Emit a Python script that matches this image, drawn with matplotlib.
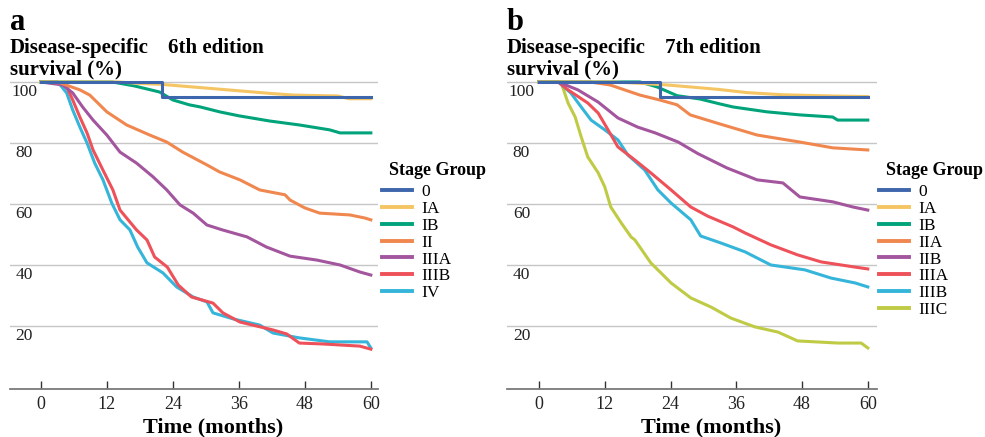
import matplotlib
matplotlib.use("Agg")
import matplotlib.pyplot as plt

plt.rcParams["font.family"] = ["Liberation Serif", "DejaVu Serif"]

# ── Data: disease-specific survival (%) vs time (months) ──
stages_a = ["0", "IA", "IB", "II", "IIIA", "IIIB", "IV"]
stages_b = ["0", "IA", "IB", "IIA", "IIB", "IIIA", "IIIB", "IIIC"]

# panel a (6th edition)
a0_t = [0, 22, 22, 60]
a0_s = [100, 100, 95.1, 95.1]
aIA_t = [0, 14, 18, 22, 26, 30, 34, 38, 42, 46, 54, 56, 60]
aIA_s = [100, 100, 99.5, 99.2, 98.6, 98.0, 97.4, 96.8, 96.2, 95.7, 95.4, 94.5, 94.5]
aIB_t = [0, 13, 17, 21.6, 24, 27, 29, 32.5, 36, 41.6, 47, 52.5, 54.4, 60]
aIB_s = [100, 100, 98.7, 96.7, 94.1, 92.5, 91.8, 90.2, 88.9, 87.2, 85.9, 84.3, 83.3, 83.3]
aII_t = [0, 3.5, 7.1, 8.9, 12, 15.6, 19.8, 22.9, 25.8, 30.2, 32.5, 36.2, 39.8,
         44.4, 45.3, 48, 50.7, 56.2, 58.9, 60]
aII_s = [100, 99.7, 97.4, 95.7, 90.2, 85.9, 82.6, 80.3, 77.0, 72.8, 70.5, 67.9, 64.6,
         63.0, 61.3, 58.7, 57.0, 56.4, 55.4, 54.8]
aIIIA_t = [0, 4, 5.8, 7.6, 9.5, 12, 14.4, 17.4, 20.4, 22.9, 25.3, 27.7, 30.2, 33,
           37.5, 41, 45.3, 50.2, 54.4, 58, 60]
aIIIA_s = [100, 99, 96.4, 91.8, 87.5, 82.6, 77.0, 73.4, 68.9, 64.6, 59.7, 57.0, 53.1,
           51.5, 49.2, 45.9, 42.9, 41.6, 40.0, 37.7, 36.7]
aIIIB_t = [0, 2.9, 4.7, 5.8, 7.1, 8.4, 9.5, 11.3, 13.1, 14.4, 17.4, 19.3, 20.7, 23,
           25, 27.4, 31.3, 33.1, 36.2, 42.2, 44.7, 47, 51.3, 58, 60]
aIIIB_s = [100, 100, 98.4, 94.1, 88.5, 83.3, 77.7, 71.1, 64.6, 58.0, 51.5, 48.2, 42.6,
           39.3, 33.4, 29.5, 27.5, 24.3, 21.3, 18.7, 17.4, 14.4, 14.1, 13.4, 12.4]
aIV_t = [0, 3.1, 4.7, 5.8, 7.1, 8.4, 9.8, 11.3, 12.9, 14.4, 16.2, 17.6, 19.3, 22.2,
         24.7, 27.7, 30.2, 31.3, 35, 39.8, 42.2, 47, 52.5, 59.3, 60]
aIV_s = [100, 100, 96.4, 90.8, 85.2, 80.0, 73.4, 67.9, 60.3, 54.8, 51.5, 45.9, 40.7,
         37.4, 32.8, 29.5, 27.9, 24.3, 22.3, 20.3, 17.7, 16.1, 14.8, 14.8, 12.8]

# panel b (7th edition)
b0_t = [0, 22, 22, 60]
b0_s = [100, 100, 95.1, 95.1]
bIA_t = [0, 13.5, 18, 23.4, 28, 32.5, 38, 44.5, 53.6, 60]
bIA_s = [100, 100, 99.6, 99.0, 98.3, 97.6, 96.5, 95.8, 95.4, 95.2]
bIB_t = [0, 18.4, 21.5, 25.2, 29.4, 33, 35.4, 38.5, 41.6, 47.6, 53.6, 54.5, 60]
bIB_s = [100, 100, 98.4, 95.5, 94.4, 92.8, 91.8, 91.0, 90.2, 89.2, 88.5, 87.5, 87.5]
bIIA_t = [0, 9.3, 13, 18.4, 22, 25.2, 27.6, 32.5, 39.8, 47.6, 53.6, 60]
bIIA_s = [100, 100, 99.0, 95.7, 94.1, 92.5, 89.2, 86.5, 82.6, 80.3, 78.4, 77.7]
bIIB_t = [0, 3.5, 7.1, 10.8, 14.4, 18, 21.2, 25.4, 29, 34.3, 39.8, 44.5, 47.6, 53.6,
          57.3, 60]
bIIB_s = [100, 100, 97.4, 93.4, 88.2, 85.2, 83.3, 80.3, 76.5, 71.8, 67.9, 66.9, 62.3,
          60.7, 59.0, 58.0]
bIIIA_t = [0, 3.5, 5.3, 8.9, 10.8, 12.6, 14.4, 17.5, 20.4, 24.1, 27.7, 30.8, 35.4,
           37.6, 42.3, 47.2, 51.5, 57.7, 60]
bIIIA_s = [100, 100, 97.4, 93.1, 89.8, 84.3, 78.7, 74.4, 70.2, 64.6, 59.0, 56.0, 52.5,
           50.5, 46.6, 43.3, 41.0, 39.3, 38.7]
bIIIB_t = [0, 3.5, 5.8, 7.7, 9.5, 12, 14.4, 16.2, 19.3, 21.7, 24.1, 27.7, 29.5, 33.2,
           37.6, 42.3, 48.5, 53.3, 57.7, 60]
bIIIB_s = [100, 100, 96.4, 91.8, 87.5, 84.3, 81.0, 76.1, 71.1, 64.6, 60.3, 54.8, 49.5,
           47.2, 44.3, 40.0, 38.4, 35.7, 34.1, 32.8]
bIIIC_t = [0, 4, 5.3, 6.6, 7.7, 8.9, 10.8, 12, 13.1, 15, 16.8, 17.5, 20.4, 24.1, 27.7,
           31.4, 35, 39.4, 43.6, 47.2, 54.6, 58.8, 60]
bIIIC_s = [100, 100, 93.1, 88.5, 82.0, 75.4, 70.2, 65.6, 59.0, 53.8, 49.2, 48.2, 40.7,
           34.1, 29.2, 26.2, 22.6, 19.7, 18.0, 15.1, 14.4, 14.4, 12.8]

x_ticks = [0, 12, 24, 36, 48, 60]
y_grid = [20, 40, 60, 80, 100]

# ── Colours ─────────────────────────────────────────────────────────────────
C_BLUE = "#3e66ad"
C_YEL = "#f5c463"
C_GRN = "#00a37a"
C_ORG = "#f0874f"
C_PUR = "#a3569e"
C_RED = "#ee5159"
C_CYN = "#35b5d9"
C_LIM = "#bfcb44"
C_GRID = "#c6c6c6"
C_SPINE = "#7a7a7a"

curves_a = [(a0_t, a0_s, C_BLUE), (aIA_t, aIA_s, C_YEL), (aIB_t, aIB_s, C_GRN),
            (aII_t, aII_s, C_ORG), (aIIIA_t, aIIIA_s, C_PUR),
            (aIIIB_t, aIIIB_s, C_RED), (aIV_t, aIV_s, C_CYN)]
curves_b = [(b0_t, b0_s, C_BLUE), (bIA_t, bIA_s, C_YEL), (bIB_t, bIB_s, C_GRN),
            (bIIA_t, bIIA_s, C_ORG), (bIIB_t, bIIB_s, C_PUR),
            (bIIIA_t, bIIIA_s, C_RED), (bIIIB_t, bIIIB_s, C_CYN),
            (bIIIC_t, bIIIC_s, C_LIM)]

W, H = 985, 437
fig = plt.figure(figsize=(W / 100, H / 100), dpi=100)


def px(x, y):
    # pixel (from top-left) -> figure fraction
    return x / W, 1 - y / H


def panel(left_px, width_px, xlim, curves, stages, letter, edition,
          ylab_x, ed_x, leg_xy):
    ax = fig.add_axes([left_px / W, 48 / H, width_px / W, 316.2 / H])
    ax.set_xlim(*xlim)
    ax.set_ylim(-0.66, 103)
    for sp in ["top", "right", "left"]:
        ax.spines[sp].set_visible(False)
    ax.spines["bottom"].set_color(C_SPINE)
    ax.spines["bottom"].set_linewidth(1.3)
    ax.set_yticks([])
    ax.set_xticks(x_ticks)
    ax.tick_params(axis="x", direction="in", length=6, width=1, color="#333333",
                   pad=5, labelsize=13, labelcolor="#222222")
    for v in y_grid:
        ax.axhline(v, color=C_GRID, lw=1, zorder=1)
        ax.text(ylab_x, v - 3.3, str(v), ha="center", va="center",
                fontsize=12.5, color="#222222")

    handles = []
    for (t, s, c), lab in zip(curves, stages):
        ln, = ax.plot(t, s, color=c, lw=2.2, label=lab)
        handles.append(ln)
    # stage 0 on top, most advanced at the bottom
    for i, ln in enumerate(handles):
        ln.set_zorder(10 - i)

    ax.set_xlabel("Time (months)", fontsize=16, fontweight="bold")
    ax.xaxis.set_label_coords(0.552, -0.090)

    x0, _ = px(left_px, 0)
    fig.text(x0, px(0, 30)[1], letter, fontsize=22, fontweight="bold",
             va="baseline", ha="left")
    fig.text(x0, px(0, 53)[1], "Disease-specific", fontsize=15,
             fontweight="bold", va="baseline", ha="left")
    fig.text(px(ed_x, 0)[0], px(0, 53)[1], edition, fontsize=15,
             fontweight="bold", va="baseline", ha="left")
    fig.text(x0, px(0, 74)[1], "survival (%)", fontsize=15,
             fontweight="bold", va="baseline", ha="left")

    lx, ly = leg_xy
    fig.text(px(lx + 7, 0)[0], px(0, 170)[1], "Stage Group", fontsize=13,
             fontweight="bold", va="center", ha="left")
    leg = ax.legend(handles=handles, loc="upper left",
                    bbox_to_anchor=px(lx, ly), bbox_transform=fig.transFigure,
                    frameon=False, fontsize=12.5, handlelength=1.7,
                    handletextpad=0.55, labelspacing=0.04, borderpad=0,
                    borderaxespad=0)
    for ln in leg.get_lines():
        ln.set_linewidth(2.8)
    return ax


panel(10, 368, (-5.6, 61.3), curves_a, stages_a, "a", "6th edition",
      -3.0, 168, (382, 184))
panel(507, 370, (-5.84, 61.68), curves_b, stages_b, "b", "7th edition",
      -3.2, 665, (879, 184))

fig.savefig("out.png", dpi=100, facecolor="white")
